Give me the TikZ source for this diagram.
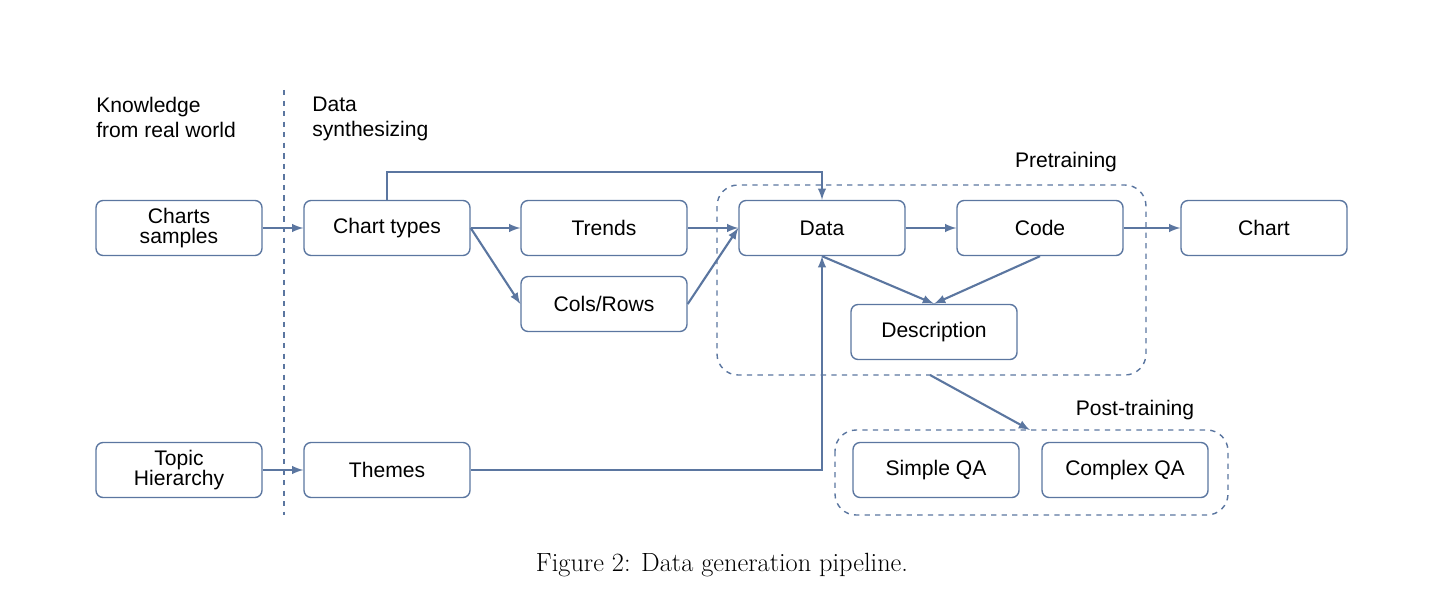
\documentclass[tikz,border=0pt]{standalone}
\usepackage{fontspec}
\setsansfont{Liberation Sans}
\usetikzlibrary{positioning}
\definecolor{flow}{HTML}{5B76A0}
\tikzset{
  box/.style={draw=flow, thick, rounded corners=4pt, minimum width=3.32cm, minimum height=1.1cm, align=center, font=\sffamily\fontsize{12}{13}\selectfont, inner sep=1pt},
  lbl/.style={align=left, font=\sffamily\fontsize{12}{14}\selectfont, anchor=north west, inner sep=0pt},
  conn/.style={draw=flow, very thick, -latex},
  area/.style={draw=flow, thick, dashed, rounded corners=12pt}
}
\begin{document}
\begin{tikzpicture}[x=0.02cm, y=-0.02cm]
      \useasboundingbox (0,0) rectangle (1444,611);
      % frame areas
      \draw [area] (717,185) rectangle (1146,375);
      \draw [area] (835,430) rectangle (1228,515);
      \draw [flow, thick, dashed] (284,90) -- (284,515);
      \node [lbl] (know) at ( 96, 97) {Knowledge\\from real world};
      \node [lbl] (synt) at (312, 97) {Data\\synthesizing};
      \node [lbl, anchor=center] (pre) at (1066,162) {Pretraining};
      \node [lbl, anchor=center] (post) at (1135,410) {Post-training};
      % boxes
      \node [box] (samples) at ( 179, 228) {Charts\\[-2pt]samples};
      \node [box] (types)   at ( 387, 228) {Chart types};
      \node [box] (trends)  at ( 604, 228) {Trends};
      \node [box] (cols)    at ( 604, 304) {Cols/Rows};
      \node [box] (data)    at ( 822, 228) {Data};
      \node [box] (code)    at (1040, 228) {Code};
      \node [box] (chart)   at (1264, 228) {Chart};
      \node [box] (desc)    at ( 934, 332) {Description};
      \node [box] (topic)   at ( 179, 470) {Topic\\[-2pt]Hierarchy};
      \node [box] (themes)  at ( 387, 470) {Themes};
      \node [box] (simple)  at ( 936, 470) {Simple QA};
      \node [box] (complex) at (1125, 470) {Complex QA};
      \coordinate (preout)  at ( 930, 375);
      \coordinate (postin)  at (1030, 430);
      % connectors
      \draw [conn] (samples) -- (types);
      \draw [conn] (topic) -- (themes);
      \draw [conn] (types.north) -- ++(0,-28) -| (data.north);
      \draw [conn] (types.east) -- (trends.west);
      \draw [conn] (types.east) -- (cols.west);
      \draw [conn] (trends.east) -- (data.west);
      \draw [conn] (cols.east) -- (data.west);
      \draw [conn] (data) -- (code);
      \draw [conn] (code) -- (chart);
      \draw [conn] (data.south) -- (desc.north);
      \draw [conn] (code.south) -- (desc.north);
      \draw [conn] (themes.east) -| (data.south);
      \draw [conn] (preout) -- (postin);
      \node [font=\fontsize{15}{17}\selectfont] (cap) at (722,565) {Figure 2: Data generation pipeline.};
\end{tikzpicture}
\end{document}
